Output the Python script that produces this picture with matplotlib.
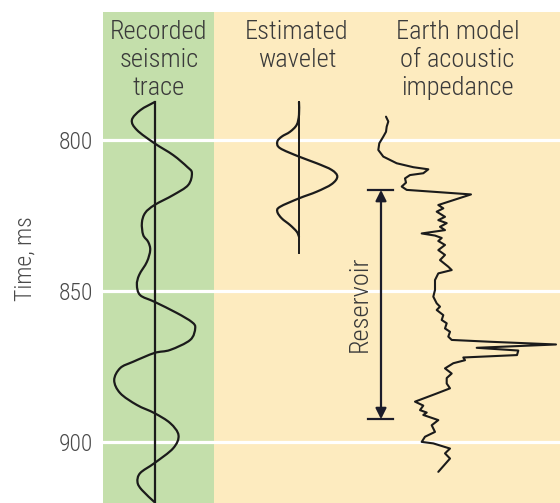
import os
import matplotlib
matplotlib.use("Agg")
import matplotlib.pyplot as plt
from matplotlib import font_manager
from matplotlib.path import Path
from matplotlib.patches import PathPatch

# ---------------- font choice (light condensed sans if available) ----------------
by_name = {}
for f in font_manager.fontManager.ttflist:
    by_name.setdefault(os.path.basename(f.fname).lower(), f.fname)
FONT_FILE = None
for want in ["robotocondensed-light.ttf", "ibmplexsanscondensed-light.ttf",
             "firasanscondensed-light.ttf", "robotocondensed-regular.ttf",
             "robotocondensed[wght].ttf", "archivonarrow[wght].ttf",
             "dejavusanscondensed.ttf"]:
    if want in by_name:
        FONT_FILE = by_name[want]
        break


def fp(size):
    if FONT_FILE:
        return font_manager.FontProperties(fname=FONT_FILE, size=size)
    return font_manager.FontProperties(family="Liberation Sans", size=size)


# ---------------- data ----------------
time_ticks = [800, 850, 900]
time_labels = ["800", "850", "900"]
y_label = "Time, ms"

header_trace = ["Recorded", "seismic", "trace"]
header_wavelet = ["Estimated", "wavelet"]
header_model = ["Earth model", "of acoustic", "impedance"]

# recorded seismic trace: time (ms) and amplitude (arbitrary units)
trace_t = [787.5, 790.1, 793.4, 796.7, 801.1, 805.0, 808.9, 810.9, 814.9, 818.2,
           821.5, 824.1, 827.4, 831.4, 833.7, 836.4, 840.3, 844.6, 847.9, 851.3,
           853.5, 857.2, 860.2, 862.2, 866.1, 869.4, 870.4, 873.3, 875.4, 879.4,
           883.7, 887.6, 890.3, 893.6, 897.6, 901.9, 906.8, 910.1, 913.1, 915.7,
           919.7]
trace_a = [0, -14, -22.6, -17.6, 0, 18.7, 32.7, 37.4, 33.7, 18.7,
           0, -9.3, -12.6, -11.3, -6.3, -4.3, -7.6, -15.3, -17.6, -14.3,
           0, 22.4, 37.4, 40.7, 35.7, 15.7, 0, -21.3, -34.3, -40.3,
           -34.3, -17.6, 0, 15.7, 24, 18.7, 0, -14.3, -17, -12.6,
           0]
trace_axis_t = [787.5, 920.0]

# estimated wavelet
wavelet_t = [787.5, 791.7, 795.0, 797.3, 798.9, 800.6, 802.7, 805.5, 807.7, 809.9,
             812.1, 814.6, 817.1, 819.3, 822.1, 823.7, 825.9, 828.1, 830.3, 832.0]
wavelet_a = [0, 0, -2.3, -9, -17.3, -21.7, -19, 0, 17.7, 32.7,
             38.3, 32.7, 17.7, 0, -19, -21.7, -17.3, -9, -2.3, 0]
wavelet_axis_t = [787.5, 837.5]

# earth model of acoustic impedance (arbitrary units)
imp_t = [792.3, 793.9, 795.6, 797.3, 798.9, 801.1, 803.3, 805.5, 807.7, 809.0,
         809.7, 811.0, 811.6, 812.7, 814.1, 815.4, 816.5, 817.2, 818.0, 821.5,
         822.6, 823.7, 825.4, 826.5, 827.5, 828.7, 829.8, 830.9, 831.6, 832.4,
         833.4, 834.7, 836.4, 838.0, 839.7, 841.9, 843.0, 844.1, 846.3, 849.6,
         851.8, 854.0, 855.1, 856.2, 857.9, 859.5, 860.6, 862.3, 863.4, 865.0,
         866.1, 866.7, 867.6, 868.7, 869.6, 871.1, 871.9, 872.8, 873.8, 875.5,
         877.2, 878.7, 880.5, 882.1, 883.8, 886.5, 887.8, 889.3, 890.1, 890.9,
         892.6, 894.3, 896.5, 898.1, 899.8, 900.3, 902.0, 903.6, 905.3, 909.7]
imp_v = [11, 13.3, 11.7, 11, 8.3, 4.3, 3.3, 8.3, 21.7, 38.3,
         53.3, 48.3, 35, 30, 31, 26.7, 31.7, 61.7, 96, 63.3,
         68.3, 61.7, 70, 63.3, 71.7, 65, 70, 46.7, 60, 66.7,
         63.3, 70, 63.3, 70, 65, 73.3, 76.7, 63.3, 60, 60,
         58.3, 61.7, 65, 61.7, 68.3, 66.7, 71.7, 70, 75, 73.3,
         76.7, 115, 181, 101.7, 143.3, 142, 88.3, 90, 78.3, 70,
         76.7, 71.7, 71.7, 75, 61.7, 40, 48.3, 45, 51.7, 48.3,
         63.3, 56.7, 60, 50, 46.7, 58.3, 75, 70, 75, 63.3]

reservoir_t = [816.5, 892.3]
reservoir_label = "Reservoir"

# ---------------- layout / style ----------------
W, H = 560, 503
GREEN = "#c4dfab"
BEIGE = "#fdebbf"
INK = "#1b1b1b"
TXT = "#3a3a3a"
TICK = "#4a4a4a"

X_LEFT, X_SPLIT, X_RIGHT = 103, 214, 560
TOP_PX = 12
T_TOP, T_BOT = 757.7, 920.0
TRACE_X0 = 154.5
WAVELET_X0 = 299
IMP_X0 = 375
ARROW_X = 381


def px_to_t(y):
    return 800 + (y - 140) / 3.024


def smooth_path(xs, ys):
    """Catmull-Rom curve through the given points, drawn as cubic Bezier segments."""
    pts = list(zip(xs, ys))
    verts = [pts[0]]
    codes = [Path.MOVETO]
    n = len(pts)
    for i in range(n - 1):
        p0 = pts[i - 1] if i > 0 else pts[i]
        p1 = pts[i]
        p2 = pts[i + 1]
        p3 = pts[i + 2] if i + 2 < n else pts[i + 1]
        c1 = (p1[0] + (p2[0] - p0[0]) / 6, p1[1] + (p2[1] - p0[1]) / 6)
        c2 = (p2[0] - (p3[0] - p1[0]) / 6, p2[1] - (p3[1] - p1[1]) / 6)
        verts += [c1, c2, p2]
        codes += [Path.CURVE4] * 3
    return Path(verts, codes)


fig = plt.figure(figsize=(W / 100, H / 100), dpi=100)
fig.patch.set_facecolor("white")
ax = fig.add_axes([X_LEFT / W, 0, (X_RIGHT - X_LEFT) / W, (H - TOP_PX) / H])
ax.set_xlim(X_LEFT, X_RIGHT)
ax.set_ylim(T_BOT, T_TOP)
for s in ax.spines.values():
    s.set_visible(False)

ax.axvspan(X_LEFT, X_SPLIT, color=GREEN, lw=0, zorder=0)
ax.axvspan(X_SPLIT, X_RIGHT, color=BEIGE, lw=0, zorder=0)
for t in time_ticks:
    ax.axhline(t, color="white", lw=2.3, zorder=1)

ax.set_xticks([])
ax.set_yticks(time_ticks)
ax.set_yticklabels(time_labels, color=TICK)
for lab in ax.get_yticklabels():
    lab.set_fontproperties(fp(17))
ax.tick_params(axis="y", length=0, pad=7)

fig.text(25 / W, 1 - 259 / H, y_label, rotation=90, ha="center", va="center",
         fontproperties=fp(17), color=TICK)

# headers
baselines_px = [39.5, 67.3, 95.0]
for lines, xc in [(header_trace, 159), (header_wavelet, 297), (header_model, 457.5)]:
    for line, yb in zip(lines, baselines_px):
        ax.text(xc, px_to_t(yb), line, ha="center", va="baseline",
                fontproperties=fp(19), color=TXT, zorder=5)

# seismic trace
ax.plot([TRACE_X0, TRACE_X0], trace_axis_t, color=INK, lw=1.6, zorder=3)
ax.add_patch(PathPatch(smooth_path([TRACE_X0 + a for a in trace_a], trace_t),
                       fill=False, edgecolor=INK, lw=1.6, zorder=3,
                       joinstyle="round", capstyle="round"))

# wavelet
ax.plot([WAVELET_X0, WAVELET_X0], wavelet_axis_t, color=INK, lw=1.4, zorder=3)
ax.add_patch(PathPatch(smooth_path([WAVELET_X0 + a for a in wavelet_a], wavelet_t),
                       fill=False, edgecolor=INK, lw=1.6, zorder=3,
                       joinstyle="round", capstyle="round"))

# impedance
ax.plot([IMP_X0 + v for v in imp_v], imp_t, color=INK, lw=1.5, zorder=3,
        solid_joinstyle="round", solid_capstyle="round")

# reservoir arrow
ax.annotate("", xy=(ARROW_X, reservoir_t[0]), xytext=(ARROW_X, reservoir_t[1]),
            arrowprops=dict(arrowstyle="<|-|>", color="#1c1c2a", lw=1.6,
                            mutation_scale=16, shrinkA=0, shrinkB=0), zorder=4)
for t in reservoir_t:
    ax.plot([ARROW_X - 13, ARROW_X + 12], [t, t], color="#1c1c2a", lw=1.6, zorder=4)
ax.text(ARROW_X - 21, (reservoir_t[0] + reservoir_t[1]) / 2 - 0.2, reservoir_label,
        rotation=90, ha="center", va="center", fontproperties=fp(19), color=TXT, zorder=5)

fig.savefig("out.png", dpi=100)
